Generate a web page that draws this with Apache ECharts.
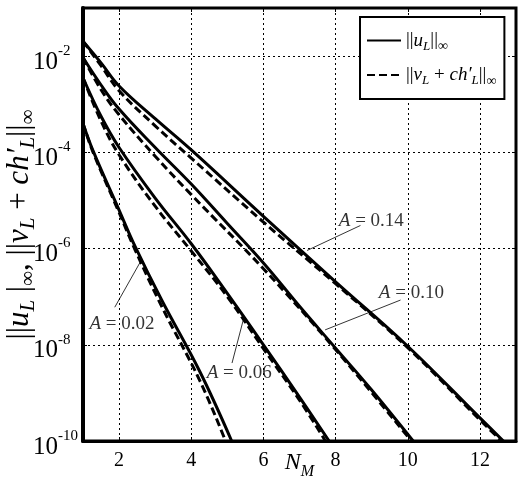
<!DOCTYPE html>
<html>
<head>
<meta charset="utf-8">
<script src="https://cdn.jsdelivr.net/npm/echarts@6/dist/echarts.min.js"></script>
<style>
html, body { margin: 0; padding: 0; background: #fff; }
#chart { width: 524px; height: 480px; }
</style>
</head>
<body>
<div id="chart"></div>
<script>
// N_M positions and norms, solid = ||u_L||, dashed = ||v_L + ch'_L||
const nU02 = [1, 1.28, 2, 2.44, 3.18, 4.24, 5.12]
const u02 = [3.98e-4, 1.07e-4, 6.31e-6, 1.12e-6, 8.51e-8, 2.75e-9, 1.0e-10]
const nV02 = [1, 1.28, 2, 2.44, 3.18, 4.24, 4.95]
const v02 = [3.98e-4, 1.0e-4, 5.62e-6, 9.55e-7, 6.31e-8, 1.78e-9, 1.0e-10]

const nU06 = [1, 1.5, 2, 3, 4, 4.94, 6, 7, 7.82]
const u06 = [3.55e-3, 5.62e-4, 1.26e-4, 1.12e-5, 1.26e-6, 1.35e-7, 1.0e-8, 8.13e-10, 1.0e-10]
const nV06 = [1, 1.5, 2, 3, 4, 5, 6, 7, 7.72]
const v06 = [3.55e-3, 4.47e-4, 8.91e-5, 7.59e-6, 8.91e-7, 1.0e-7, 8.32e-9, 7.08e-10, 1.0e-10]

const nU10 = [1, 1.5, 2, 3, 4, 5, 6, 7, 8, 9, 10.15]
const u10 = [9.33e-3, 2.51e-3, 7.94e-4, 1.26e-4, 2.19e-5, 3.31e-6, 5.01e-7, 6.31e-8, 8.51e-9, 1.15e-9, 1.0e-10]
const nV10 = [1, 1.5, 2, 3, 4, 6, 8, 10.1]
const v10 = [9.33e-3, 2.0e-3, 6.03e-4, 8.32e-5, 1.32e-5, 3.80e-7, 7.94e-9, 1.0e-10]

const nU14 = [1, 1.5, 2, 3, 4, 6, 8, 10, 12, 12.65]
const u14 = [2.04e-2, 7.24e-3, 2.40e-3, 5.01e-4, 1.12e-4, 4.68e-6, 2.04e-7, 9.33e-9, 3.02e-10, 1.0e-10]
const nV14 = [1, 1.5, 2, 3, 4, 6, 8, 10, 12, 12.6]
const v14 = [2.04e-2, 6.31e-3, 1.91e-3, 3.55e-4, 7.59e-5, 3.55e-6, 1.86e-7, 8.71e-9, 2.75e-10, 1.0e-10]

// curve labels
const tagText = ['0.02', '0.06', '0.10', '0.14']
const tagAt = [[2.08, 2.69e-8], [5.33, 2.63e-9], [10.1, 1.17e-7], [8.99, 3.8e-6]]
const leaders = [
  [[1.88, 6.03e-8], [2.58, 5.13e-7]],
  [[5.13, 4.17e-9], [5.44, 3.24e-8]],
  [[9.8, 8.51e-8], [7.71, 2.04e-8]],
  [[8.69, 3.02e-6], [7.21, 9.12e-7]]
]

const serif = '"Liberation Serif", "Times New Roman", serif'
const chart = echarts.init(document.getElementById('chart'))

const curve = (name, xs, ys, dashed) => ({
  name: name,
  type: 'line',
  symbol: 'none',
  smooth: 0.4,
  data: xs.map((x, i) => [x, ys[i]]),
  lineStyle: { color: '#000', width: 3, type: dashed ? [8, 4] : 'solid' },
  itemStyle: { color: '#000' },
  z: dashed ? 4 : 3,
  silent: true
})

const series = [
  curve('u', nU02, u02, false), curve('v', nV02, v02, true),
  curve('u', nU06, u06, false), curve('v', nV06, v06, true),
  curve('u', nU10, u10, false), curve('v', nV10, v10, true),
  curve('u', nU14, u14, false), curve('v', nV14, v14, true)
]

leaders.forEach(seg => {
  series.push({
    type: 'line', symbol: 'none', data: seg, silent: true,
    lineStyle: { color: '#000', width: 0.8 }, z: 5
  })
})

series.push({
  type: 'scatter',
  symbolSize: 0,
  silent: true,
  z: 6,
  data: tagAt.map((p, i) => ({ value: p, name: tagText[i] })),
  label: {
    show: true,
    position: 'inside',
    formatter: p => '{i|A} = ' + p.name,
    color: '#000',
    fontFamily: serif,
    fontSize: 19,
    rich: { i: { fontFamily: serif, fontStyle: 'italic', fontSize: 19, color: '#000' } }
  }
})

const richNorm = {
  t: { fontFamily: serif, fontSize: 19, color: '#000' },
  i: { fontFamily: serif, fontSize: 19, fontStyle: 'italic', color: '#000' },
  s: { fontFamily: serif, fontSize: 13, fontStyle: 'italic', color: '#000', padding: [12, 0, 0, 0] },
  f: { fontFamily: serif, fontSize: 14, color: '#000', padding: [12, 0, 0, 0] }
}

const option = {
  animation: false,
  backgroundColor: '#fff',
  grid: {
    left: 83, right: 8, top: 8, bottom: 39,
    outerBoundsMode: 'none',
    containLabel: false,
    show: true, borderColor: '#000', borderWidth: 3
  },
  legend: {
    data: ['u', 'v'],
    orient: 'vertical',
    left: 360,
    top: 17,
    itemWidth: 34,
    itemHeight: 14,
    itemGap: 12,
    padding: [14, 8, 11, 6],
    backgroundColor: '#fff',
    borderColor: '#000',
    borderWidth: 2,
    itemStyle: { color: 'rgba(0,0,0,0)', borderWidth: 0 },
    formatter: name => name === 'u'
      ? '{t|||}{i|u}{s|L}{t|||}{f|∞}'
      : '{t|||}{i|v}{s|L}{t| + }{i|ch′}{s|L}{t|||}{f|∞}',
    textStyle: { rich: richNorm }
  },
  xAxis: [{
    type: 'value',
    min: 1,
    max: 13,
    splitNumber: 6,
    name: '{n|N}{m|M}',
    nameLocation: 'middle',
    nameGap: 5,
    nameMoveOverlap: false,
    nameTextStyle: {
      rich: {
        n: { fontFamily: serif, fontStyle: 'italic', fontSize: 24, color: '#000' },
        m: { fontFamily: serif, fontStyle: 'italic', fontSize: 16, color: '#000', padding: [18, 0, 0, 0] }
      }
    },
    axisLine: { lineStyle: { color: '#000', width: 3 } },
    axisTick: { inside: true, length: 4, lineStyle: { color: '#000' } },
    axisLabel: {
      showMinLabel: false, showMaxLabel: false,
      color: '#000', fontFamily: serif, fontSize: 20, margin: 10
    },
    splitLine: { lineStyle: { color: '#000', width: 1, type: [2, 3] } }
  }, {
    type: 'value', position: 'top', min: 1, max: 13, splitNumber: 6,
    axisLine: { show: false },
    axisTick: { inside: true, length: 4, lineStyle: { color: '#000' } },
    axisLabel: { show: false },
    splitLine: { show: false }
  }],
  yAxis: [{
    type: 'log',
    logBase: 100,
    min: 1e-10,
    max: 1e-1,
    name: '{t|||}{i|u}{s|L}{t| |}{f|∞}{t|, ||}{i|v}{s|L}{t| + }{i|ch′}{s|L}{t|||}{f|∞}',
    nameLocation: 'middle',
    nameRotate: 90,
    nameGap: 44,
    nameMoveOverlap: false,
    nameTextStyle: {
      rich: {
        t: { fontFamily: serif, fontSize: 31, color: '#000' },
        i: { fontFamily: serif, fontSize: 31, fontStyle: 'italic', color: '#000' },
        s: { fontFamily: serif, fontSize: 21, fontStyle: 'italic', color: '#000', padding: [18, 0, 0, 0] },
        f: { fontFamily: serif, fontSize: 21, color: '#000', padding: [18, 0, 0, 0] }
      }
    },
    axisLine: { lineStyle: { color: '#000', width: 4 } },
    axisTick: { inside: true, length: 4, lineStyle: { color: '#000' } },
    axisLabel: {
      align: 'left',
      margin: 50,
      formatter: v => {
        const e = Math.round(Math.log10(v))
        return e % 2 !== 0 ? '' : '{b|10}{e|' + e + '}'
      },
      rich: {
        b: { fontFamily: serif, fontSize: 25, color: '#000', padding: [12, 0, 0, 0] },
        e: { fontFamily: serif, fontSize: 15, color: '#000', padding: [0, 0, 10, 0] }
      }
    },
    splitLine: { lineStyle: { color: '#000', width: 1, type: [2, 3] } }
  }, {
    type: 'log', logBase: 100, min: 1e-10, max: 1e-1, position: 'right',
    axisLine: { show: false },
    axisTick: { inside: true, length: 4, lineStyle: { color: '#000' } },
    axisLabel: { show: false },
    splitLine: { show: false }
  }],
  series: series
}

chart.setOption(option)
</script>
</body>
</html>
